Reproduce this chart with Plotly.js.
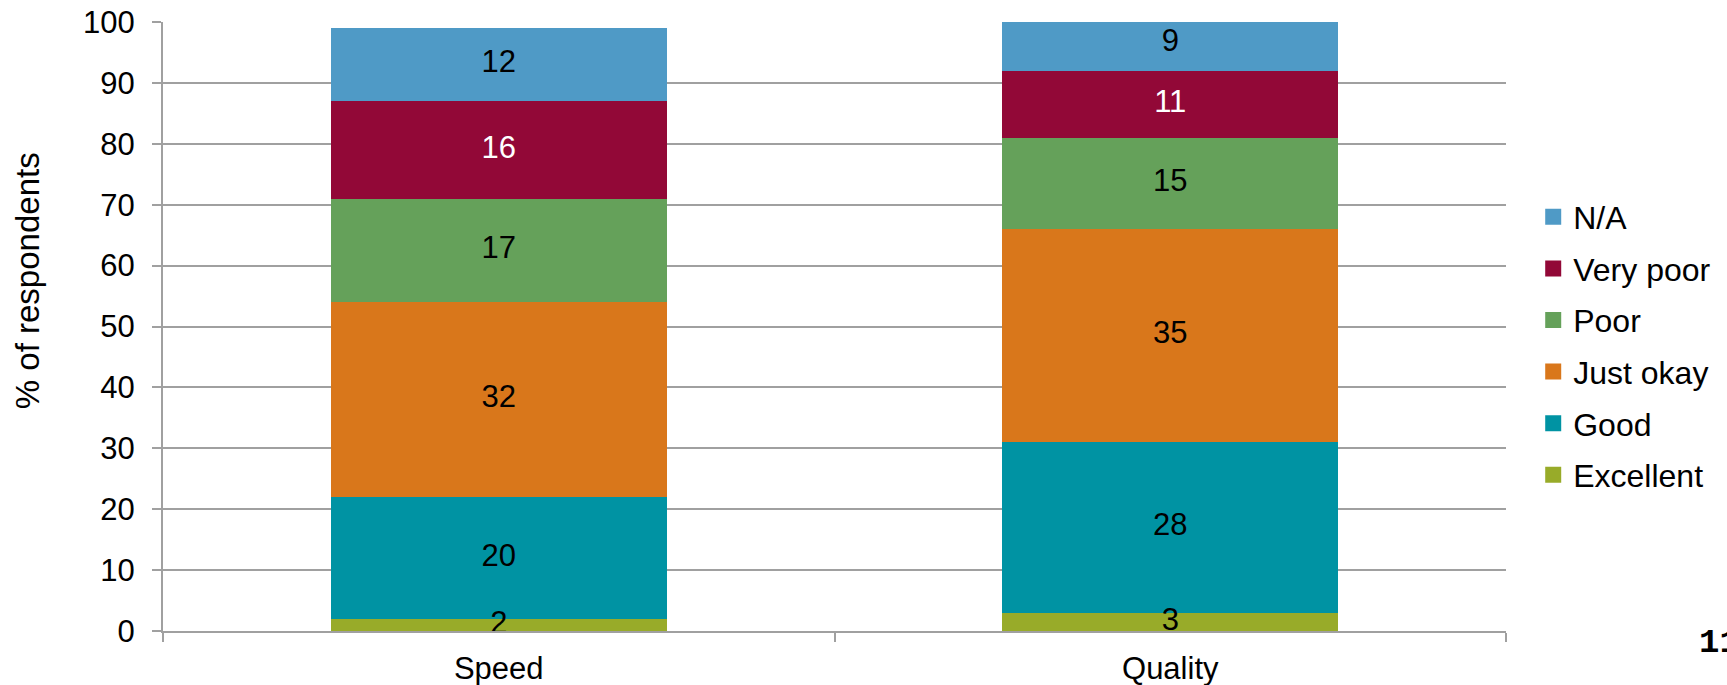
<!DOCTYPE html>
<html>
<head>
<meta charset="utf-8">
<script src="https://cdn.plot.ly/plotly-3.0.1.min.js"></script>
<style>
  html, body { margin: 0; padding: 0; background: #fff; }
  #chart { width: 1727px; height: 685px; }
</style>
</head>
<body>
<div id="chart"></div>
<script>
// Survey ratings, % of respondents
const categories = ['Speed', 'Quality'];
const ratingNames = ['Excellent', 'Good', 'Just okay', 'Poor', 'Very poor', 'N/A'];
const excellent = [2, 3];
const good = [20, 28];
const justOkay = [32, 35];
const poor = [17, 15];
const veryPoor = [16, 11];
const notApplicable = [12, 9];

const seriesValues = [excellent, good, justOkay, poor, veryPoor, notApplicable];
const seriesColors = ['#98ab29', '#0093a3', '#d9771b', '#65a15a', '#920837', '#4f9ac6'];
const labelColors = ['#000', '#000', '#000', '#000', '#fff', '#000'];

const FONT = 'Liberation Sans, Arial, sans-serif';
const traces = [];

// stacked bars
seriesValues.forEach((vals, i) => {
  traces.push({
    type: 'bar', x: categories, y: vals, name: ratingNames[i],
    marker: { color: seriesColors[i], line: { width: 0 } },
    showlegend: false, hoverinfo: 'x+y+name'
  });
});

// value labels centred in each segment
const base = categories.map(() => 0);
seriesValues.forEach((vals, i) => {
  const mids = vals.map((v, j) => base[j] + v / 2);
  vals.forEach((v, j) => { base[j] += v; });
  traces.push({
    type: 'scatter', mode: 'text', x: categories, y: mids,
    text: vals.map(String), textposition: 'middle center',
    textfont: { family: FONT, size: 31, color: labelColors[i] },
    cliponaxis: false, showlegend: false, hoverinfo: 'skip'
  });
});

// legend entries with square swatches, top entry = last series
for (let i = seriesValues.length - 1; i >= 0; i--) {
  traces.push({
    type: 'scatter', mode: 'markers', x: [categories[0]], y: [null],
    name: ratingNames[i], legendgroup: 'g' + i,
    marker: { symbol: 'square', size: 16, color: seriesColors[i] },
    showlegend: true, hoverinfo: 'skip'
  });
}

const layout = {
  width: 1727, height: 685,
  margin: { l: 163, r: 220, t: 22, b: 54 },
  paper_bgcolor: '#fff', plot_bgcolor: '#fff',
  barmode: 'stack', bargap: 0.5,
  font: { family: FONT, size: 31, color: '#000' },
  showlegend: true,
  legend: {
    x: 1.0195, xanchor: 'left', y: 0.468, yanchor: 'middle',
    traceorder: 'grouped', font: { family: FONT, size: 32, color: '#000' },
    itemwidth: 30, tracegroupgap: 7, bgcolor: 'rgba(0,0,0,0)'
  },
  xaxis: {
    type: 'category', tickson: 'boundaries', ticks: 'outside', ticklen: 9,
    tickcolor: '#a0a0a0', tickwidth: 2, showline: true, linecolor: '#a0a0a0',
    linewidth: 2, showgrid: false, zeroline: false, ticklabelstandoff: 9,
    tickfont: { family: FONT, size: 31, color: '#000' }
  },
  yaxis: {
    range: [0, 100], dtick: 10, ticks: 'outside', ticklen: 9,
    tickcolor: '#a0a0a0', tickwidth: 2, showline: true, linecolor: '#a0a0a0',
    linewidth: 2, showgrid: true, gridcolor: '#a0a0a0', gridwidth: 2,
    zeroline: false, ticklabelstandoff: 11,
    tickfont: { family: FONT, size: 31, color: '#000' }
  },
  annotations: [
    {
      text: '% of respondents', textangle: -90, showarrow: false,
      xref: 'paper', yref: 'paper', x: -0.101, y: 0.575,
      xanchor: 'center', yanchor: 'middle',
      font: { family: FONT, size: 33, color: '#000' }
    },
    {
      text: '<b>11</b>', showarrow: false,
      xref: 'paper', yref: 'paper', x: 1.142, y: -0.02,
      xanchor: 'left', yanchor: 'middle',
      font: { family: 'Liberation Mono, Courier New, monospace', size: 34, color: '#000' }
    }
  ]
};

Plotly.newPlot('chart', traces, layout, { displayModeBar: false, staticPlot: true });
</script>
</body>
</html>
